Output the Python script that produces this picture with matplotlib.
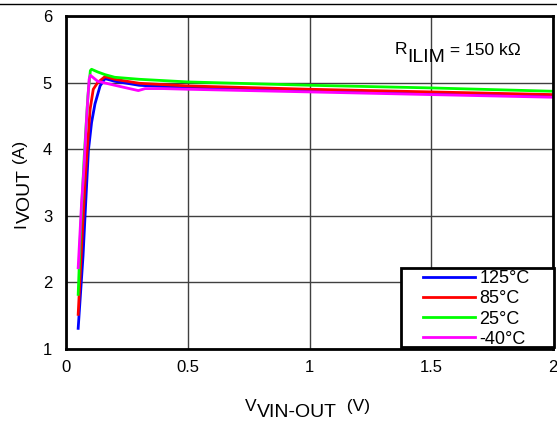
import matplotlib.pyplot as plt
from matplotlib.patches import Rectangle
from matplotlib.transforms import IdentityTransform

plt.rcParams['font.family'] = ['Liberation Sans', 'DejaVu Sans']

# curves (V_VIN-OUT in V, I_VOUT in A)
x_125 = [0.05, 0.07, 0.081, 0.092, 0.105, 0.119, 0.14, 0.16, 0.2, 0.3, 0.5, 1.0, 1.5, 2.0]
y_125 = [1.31, 2.40, 3.20, 3.98, 4.40, 4.68, 4.95, 5.06, 5.02, 4.96, 4.92, 4.88, 4.84, 4.80]

x_85 = [0.05, 0.065, 0.078, 0.087, 0.099, 0.112, 0.13, 0.16, 0.2, 0.3, 0.5, 1.0, 1.5, 2.0]
y_85 = [1.52, 2.60, 3.50, 3.98, 4.60, 4.90, 5.00, 5.09, 5.05, 4.99, 4.95, 4.90, 4.86, 4.82]

x_25 = [0.05, 0.06, 0.075, 0.09, 0.1, 0.105, 0.13, 0.16, 0.2, 0.3, 0.5, 1.0, 1.5, 2.0]
y_25 = [1.82, 2.80, 3.90, 4.80, 5.18, 5.20, 5.16, 5.12, 5.08, 5.05, 5.01, 4.96, 4.92, 4.87]

x_m40 = [0.05, 0.064, 0.074, 0.085, 0.095, 0.1, 0.13, 0.2, 0.297, 0.325, 0.4, 0.5, 1.0, 1.5, 2.0]
y_m40 = [2.22, 3.20, 3.73, 4.50, 5.05, 5.11, 5.02, 4.96, 4.88, 4.91, 4.91, 4.90, 4.86, 4.82, 4.78]

labels = ['125°C', '85°C', '25°C', '-40°C']
colors = ['#0000ff', '#ff0000', '#00ff00', '#ff00ff']

W, H = 557, 424
fig = plt.figure(figsize=(W / 100, H / 100), dpi=100)
ax = fig.add_axes([66 / W, 1 - 349 / H, 487 / W, 333 / H])


def chain(parts, x, y, rotation=0):
    # place text pieces one after another, in pixels (origin bottom left);
    # shift > 0 moves a piece down (subscript)
    r = fig.canvas.get_renderer()
    for s, size, shift in parts:
        if rotation == 0:
            t = fig.text(x, y - shift, s, fontsize=size, ha='left', va='baseline',
                         transform=IdentityTransform())
            x = t.get_window_extent(r).x1
        else:
            t = fig.text(x + shift, y, s, fontsize=size, ha='left', va='baseline',
                         rotation=90, rotation_mode='anchor',
                         transform=IdentityTransform())
            y = t.get_window_extent(r).y1


# thin rule across the top of the figure
fig.add_artist(plt.Line2D([0, 1], [1 - 4 / H, 1 - 4 / H], color='black', lw=1))

series = [(x_125, y_125), (x_85, y_85), (x_25, y_25), (x_m40, y_m40)]
for (xs, ys), lab, c in zip(series, labels, colors):
    ax.plot(xs, ys, color=c, lw=2, label=lab)

ax.set_xlim(0, 2)
ax.set_ylim(1, 6)
ax.set_xticks([0, 0.5, 1, 1.5, 2])
ax.set_xticklabels(['0', '0.5', '1', '1.5', '2'])
ax.set_yticks([1, 2, 3, 4, 5, 6])
ax.grid(True, color='#404040', lw=1)
ax.tick_params(length=0, labelsize=12)
ax.tick_params(axis='y', pad=10)
ax.tick_params(axis='x', pad=8)
for s in ax.spines.values():
    s.set_linewidth(2)

# axis labels with large subscripts, as in the original
chain([('V', 12.5, 0), ('VIN-OUT', 14, 6), ('  (V)', 12.5, 0)], 245, H - 411)
chain([('I', 12.5, 0), ('VOUT', 14, 5), (' (A)', 12.5, 0)], 25, H - 228, rotation=90)
chain([('R', 12.5, 0), ('ILIM', 14, 8), (' = 150 kΩ', 12.5, 1)], 395, H - 54)

# legend: wide box, entries pushed to the right
ax.add_patch(Rectangle((401 / W, 1 - 347 / H), 153 / W, 79 / H, transform=fig.transFigure,
                       facecolor='white', edgecolor='black', lw=2, zorder=4, clip_on=False))
leg = ax.legend(loc='upper left', bbox_to_anchor=(423 / W, 1 - 270 / H),
                bbox_transform=fig.transFigure, frameon=False, fontsize=13,
                handlelength=2.9, handletextpad=0.22, labelspacing=0.18,
                borderpad=0, borderaxespad=0)
leg.set_zorder(5)

fig.savefig('out.png', dpi=100)
